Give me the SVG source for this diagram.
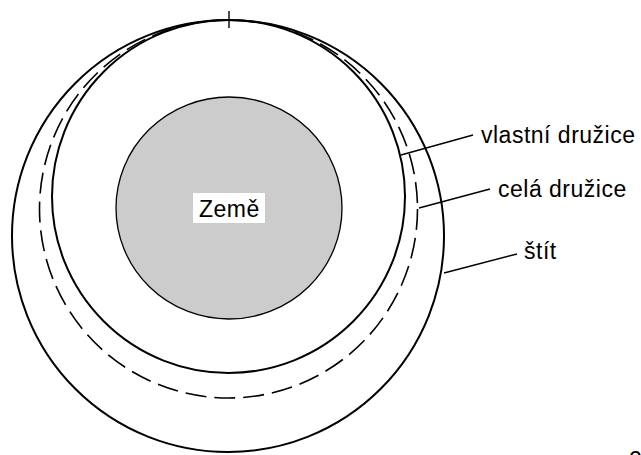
<svg xmlns="http://www.w3.org/2000/svg" width="641" height="455" viewBox="0 0 641 455">
<style>
.ring{fill:none;stroke:#000;stroke-width:2}
.dash{fill:none;stroke:#000;stroke-width:1.6;stroke-dasharray:21 8}
.lead{stroke:#000;stroke-width:1.4;fill:none}
.lbl{font-family:"Liberation Sans",Arial,sans-serif;font-size:23px;letter-spacing:0.5px;fill:#000}
</style>
<rect width="641" height="455" fill="#fff"/>
<g id="stit"><circle class="ring" cx="228" cy="236" r="216"/></g>
<g id="cela-druzice"><circle class="dash" cx="228.5" cy="209" r="189"/></g>
<g id="vlastni-druzice"><circle class="ring" cx="228.5" cy="196.5" r="176.5"/></g>
<g id="zeme">
<ellipse cx="229" cy="208" rx="113" ry="111" fill="#cccccc" stroke="#000" stroke-width="1.3"/>
<rect x="193" y="193" width="72" height="30" fill="#fff"/>
<text class="lbl" x="199" y="217" letter-spacing="0">Země</text>
</g>
<g id="tick"><line class="lead" x1="229" y1="11" x2="229" y2="28"/></g>
<g id="connectors">
<line class="lead" x1="401" y1="155" x2="473" y2="135"/>
<line class="lead" x1="419" y1="208" x2="490" y2="189"/>
<line class="lead" x1="444" y1="273" x2="517" y2="254"/>
</g>
<g id="labels">
<text class="lbl" x="481" y="143">vlastní družice</text>
<text class="lbl" x="498" y="197">celá družice</text>
<text class="lbl" x="524" y="259">štít</text>
<text class="lbl" x="629" y="468">2</text>
</g>
</svg>
